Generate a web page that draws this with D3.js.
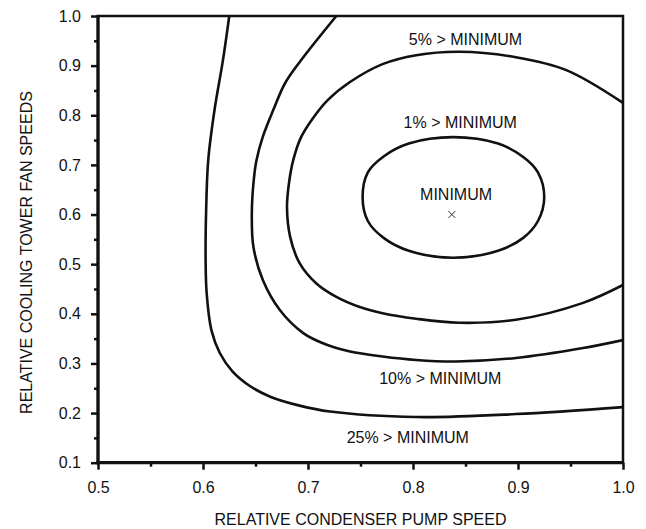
<!DOCTYPE html>
<html><head><meta charset="utf-8">
<script src="https://cdn.jsdelivr.net/npm/d3@7"></script>
<style>
html,body{margin:0;padding:0;background:#fff;}
svg{display:block;font-family:"Liberation Sans",Arial,sans-serif;}
</style></head>
<body>
<svg id="chart" width="646" height="529"></svg>
<script>
// ---- data (relative condenser pump speed, relative cooling tower fan speed) ----
const xTicks = [0.5, 0.6, 0.7, 0.8, 0.9, 1.0];
const xMinorTicks = [0.55, 0.65, 0.75, 0.85, 0.95];
const yTicks = [0.1, 0.2, 0.3, 0.4, 0.5, 0.6, 0.7, 0.8, 0.9, 1.0];
const yMinorTicks = [0.15, 0.25, 0.35, 0.45, 0.55, 0.65, 0.75, 0.85, 0.95];

const contour25 = [[0.625,1.0],[0.619,0.911],[0.611,0.811],[0.605,0.710],[0.603,0.609],[0.6025,0.508],[0.6035,0.441],[0.608,0.367],[0.616,0.321],[0.628,0.284],[0.645,0.254],[0.664,0.233],[0.692,0.215],[0.721,0.203],[0.803,0.192],[0.898,0.198],[1.0,0.212]];
const contour10 = [[0.727,1.0],[0.692,0.907],[0.678,0.864],[0.667,0.811],[0.657,0.757],[0.651,0.710],[0.6485,0.673],[0.6465,0.603],[0.648,0.535],[0.657,0.468],[0.673,0.408],[0.6955,0.361],[0.716,0.339],[0.740,0.324],[0.771,0.314],[0.803,0.307],[0.841,0.304],[0.898,0.311],[0.962,0.331],[1.0,0.347]];
const contour5 = [[1.0,0.825],[0.946,0.891],[0.898,0.917],[0.844,0.928],[0.803,0.921],[0.771,0.903],[0.740,0.867],[0.719,0.831],[0.704,0.792],[0.693,0.754],[0.686,0.710],[0.682,0.665],[0.680,0.615],[0.683,0.555],[0.692,0.502],[0.708,0.461],[0.727,0.434],[0.750,0.413],[0.771,0.401],[0.803,0.390],[0.844,0.382],[0.898,0.388],[0.962,0.422],[1.0,0.458]];
const contour1 = [[0.752,0.635],[0.757,0.685],[0.772,0.717],[0.796,0.743],[0.838,0.756],[0.881,0.743],[0.905,0.716],[0.919,0.685],[0.925,0.635],[0.919,0.587],[0.905,0.553],[0.881,0.527],[0.838,0.513],[0.796,0.527],[0.772,0.553],[0.757,0.587]];
const minimumPoint = [0.837, 0.600];

const labels = [
  {text: "5% > MINIMUM", x: 0.850, y: 0.942},
  {text: "1% > MINIMUM", x: 0.845, y: 0.774},
  {text: "MINIMUM", x: 0.841, y: 0.629},
  {text: "10% > MINIMUM", x: 0.826, y: 0.259},
  {text: "25% > MINIMUM", x: 0.795, y: 0.140}
];
const xTitle = "RELATIVE CONDENSER PUMP SPEED";
const yTitle = "RELATIVE COOLING TOWER FAN SPEEDS";

// ---- layout ----
const svg = d3.select("#chart");
const L = 98, R = 623, T = 16, B = 462.7;
const x = d3.scaleLinear().domain([0.5, 1.0]).range([L, R]);
const y = d3.scaleLinear().domain([0.1, 1.0]).range([B, T]);
const ink = "#111";

svg.append("defs").append("clipPath").attr("id","plotclip")
  .append("rect").attr("x", L).attr("y", T).attr("width", R-L).attr("height", B-T);

// contours
const line = d3.line().x(d => x(d[0])).y(d => y(d[1])).curve(d3.curveCatmullRom.alpha(0.5));
const closed = d3.line().x(d => x(d[0])).y(d => y(d[1])).curve(d3.curveCatmullRomClosed.alpha(0.5));
const g = svg.append("g").attr("clip-path","url(#plotclip)");
[contour25, contour10, contour5].forEach(c => {
  g.append("path").attr("d", line(c)).attr("fill","none").attr("stroke", ink).attr("stroke-width", 2.6);
});
g.append("path").attr("d", closed(contour1)).attr("fill","none").attr("stroke", ink).attr("stroke-width", 2.6);

// minimum marker
const mx = x(minimumPoint[0]), my = y(minimumPoint[1]), s = 3.5;
svg.append("path").attr("d", `M${mx-s},${my-s}L${mx+s},${my+s}M${mx-s},${my+s}L${mx+s},${my-s}`)
  .attr("stroke","#333").attr("stroke-width",1).attr("fill","none");

// labels
svg.append("g").selectAll("text").data(labels).join("text")
  .attr("x", d => x(d.x)).attr("y", d => y(d.y))
  .attr("text-anchor","middle").attr("font-size",16).attr("fill", ink)
  .text(d => d.text);

// axes
const xAxis = d3.axisBottom(x).tickValues(xTicks).tickSize(7).tickPadding(12).tickFormat(d3.format(".1f"));
const xMinor = d3.axisBottom(x).tickValues(xMinorTicks).tickSize(4).tickFormat("");
const yAxis = d3.axisLeft(y).tickValues(yTicks).tickSize(7).tickPadding(10).tickFormat(d3.format(".1f"));
const yMinor = d3.axisLeft(y).tickValues(yMinorTicks).tickSize(4).tickFormat("");

function style(sel){
  sel.select(".domain").remove();
  sel.selectAll("line").attr("stroke", ink).attr("stroke-width", 2.5);
  sel.selectAll("text").attr("font-size", 16).attr("fill", ink).attr("font-family", "Liberation Sans, Arial, sans-serif");
}
svg.append("g").attr("transform",`translate(0,${B})`).call(xAxis).call(style);
svg.append("g").attr("transform",`translate(0,${B})`).call(xMinor).call(style);
svg.append("g").attr("transform",`translate(${L},0)`).call(yAxis).call(style);
svg.append("g").attr("transform",`translate(${L},0)`).call(yMinor).call(style);

// frame
svg.append("rect").attr("x", L).attr("y", T).attr("width", R-L).attr("height", B-T)
  .attr("fill","none").attr("stroke", ink).attr("stroke-width", 2.5);
svg.append("line").attr("x1", L).attr("x2", L).attr("y1", T-1).attr("y2", B+1.5).attr("stroke", ink).attr("stroke-width", 3.2);
svg.append("line").attr("x1", L-1.5).attr("x2", R+1).attr("y1", B).attr("y2", B).attr("stroke", ink).attr("stroke-width", 3.2);

// titles
svg.append("text").attr("x", (L+R)/2).attr("y", 525).attr("text-anchor","middle")
  .attr("font-size",16).attr("fill", ink).text(xTitle);
svg.append("text").attr("transform","translate(31.5,252.5) rotate(-90)").attr("text-anchor","middle")
  .attr("font-size",16).attr("fill", ink).text(yTitle);
</script>
</body></html>
